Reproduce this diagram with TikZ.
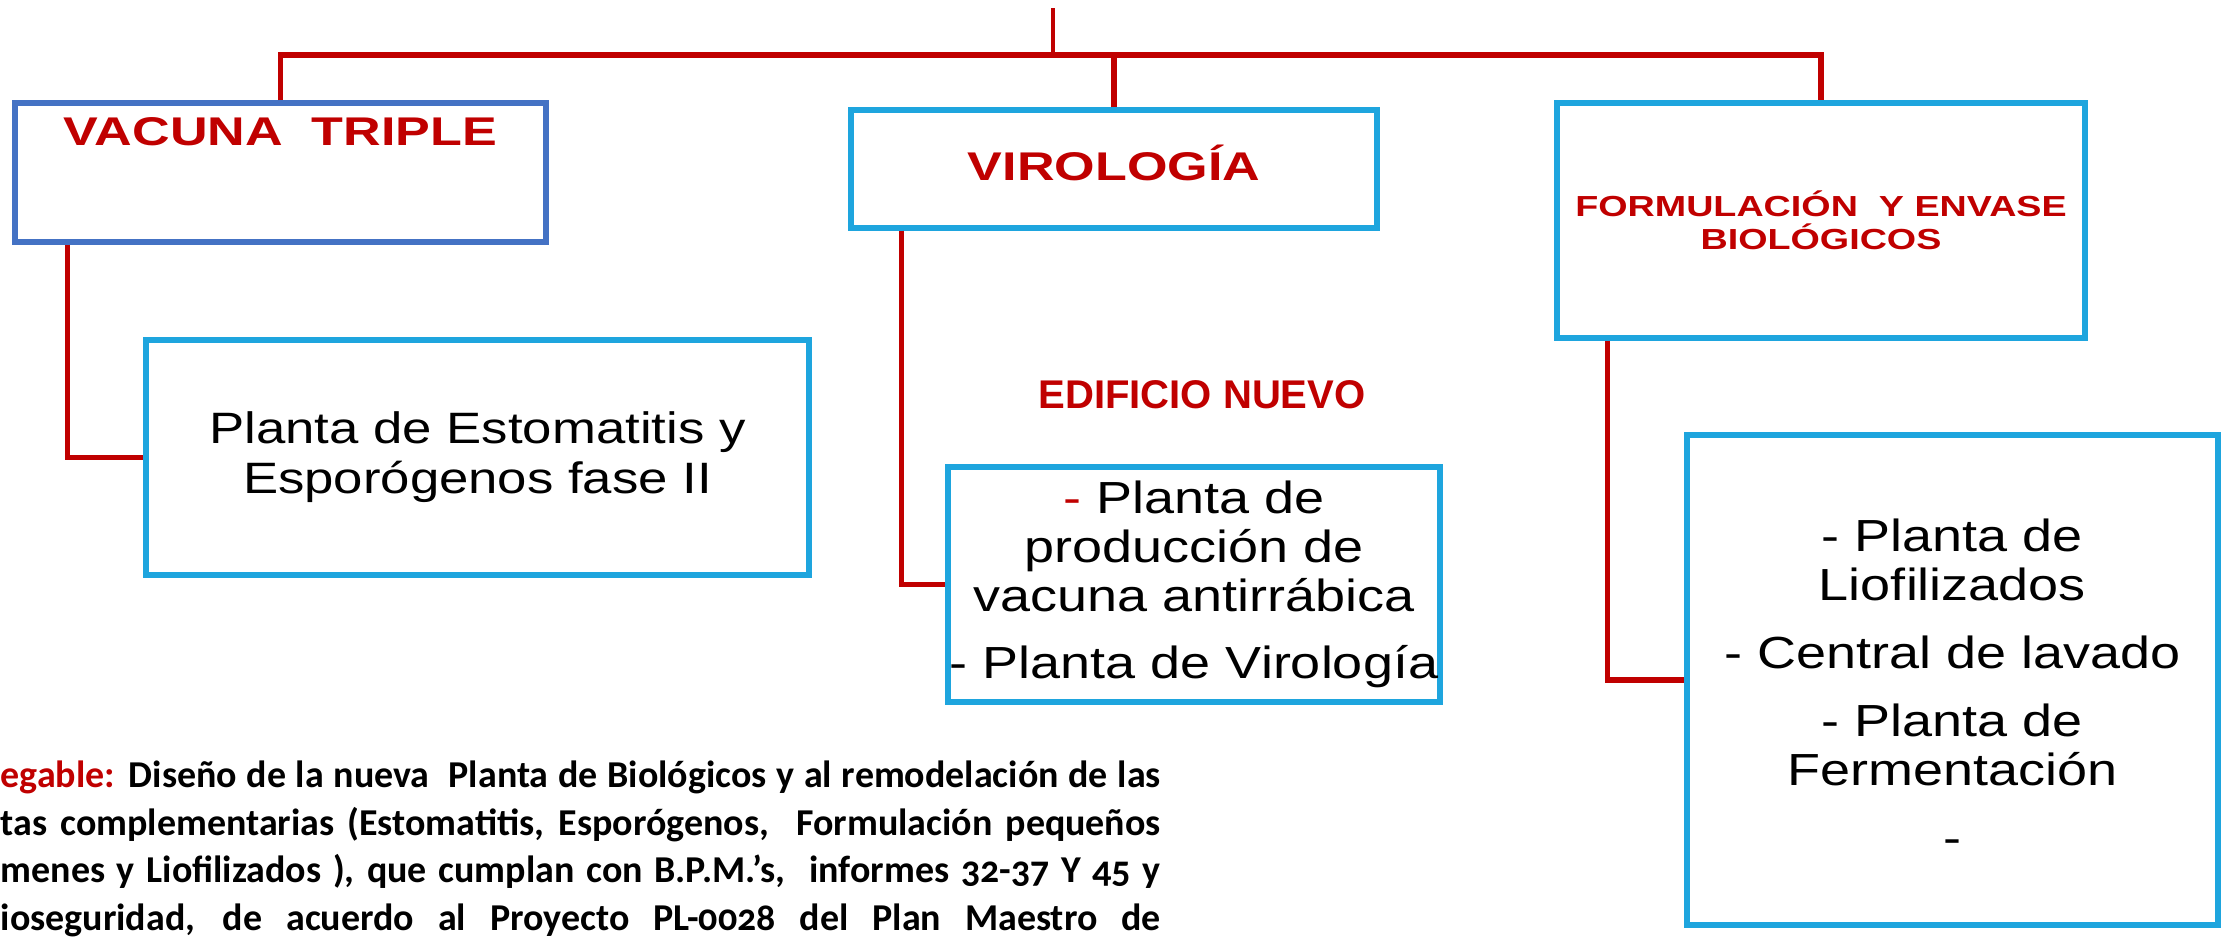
\documentclass[tikz,border=0pt]{standalone}
\usepackage{fontspec}
\setmainfont{Liberation Sans}
\newfontfamily\headfont{Liberation Sans}[FakeStretch=1.3]
\newfontfamily\bodyfont{Liberation Sans}[FakeStretch=1.2]
\newfontfamily\notefont{Carlito}[Numbers=OldStyle]
\usetikzlibrary{positioning}
\definecolor{lineRed}{RGB}{192,0,0}
\definecolor{boxBlue}{RGB}{68,114,196}
\definecolor{boxCyan}{RGB}{30,165,222}
\tikzset{
	link/.style={draw=lineRed,line width=1.45pt},
	box/.style={draw=boxCyan,line width=1.45pt,rectangle,inner sep=0pt,align=center,font=\bodyfont\fontsize{12.8}{13.9}\selectfont},
	headtxt/.style={text=lineRed,inner sep=0pt,font=\headfont\bfseries\fontsize{11.4}{13}\selectfont}
}
\begin{document}
\begin{tikzpicture}[x=0.1mm,y=-0.1mm]
	\useasboundingbox (0,0) rectangle (2229,945);
	\node[box,draw=boxBlue,minimum width=53.1mm,minimum height=13.9mm] (vac) at (280.5,172.5) {};
	\node[box,minimum width=52.6mm,minimum height=11.8mm] (vir) at (1114,169) {};
	\node[box,minimum width=52.8mm,minimum height=23.5mm,text=lineRed,font=\headfont\bfseries\fontsize{8.25}{9.4}\selectfont] (form) at (1821,220.5) {FORMULACIÓN~ Y ENVASE\\BIOLÓGICOS};
	\node[box,minimum width=66.3mm,minimum height=23.5mm,font=\bodyfont\fontsize{12.5}{14.2}\selectfont] (esto) at (477.5,457.5) {Planta de Estomatitis y\\Esporógenos fase II};
	\node[box,minimum width=49.2mm,minimum height=23.5mm] (anti) at (1194,584.5) {{\color{lineRed}-} Planta de\\producción de\\vacuna antirrábica\\[5.4pt]- Planta de Virología};
	\node[box,minimum width=53.1mm,minimum height=49mm] (liof) at (1952.5,680) {\rule{0pt}{4.5mm}- Planta de\\Liofilizados\\[5.4pt]- Central de lavado\\[5.4pt]- Planta de\\Fermentación\\[5.4pt]-};
	
	\node[headtxt,anchor=base] (vaclab) at ([yshift=-4.5mm]vac.north) {VACUNA~ TRIPLE};
	\node[headtxt,anchor=base] (virlab) at ([yshift=-7.3mm]vir.north) {VIROLOGÍA};
	\node[headtxt,font=\bfseries\fontsize{11.4}{13}\selectfont,above=5.5mm of anti.north,xshift=0.8mm] (newlab) {EDIFICIO NUEVO};
	\node[anchor=north west,inner sep=0pt,text width=116mm,align=justify,font=\notefont\bfseries\fontsize{10.8}{13.6}\selectfont] (note) at (0,760) {\parfillskip=0pt {\color{lineRed}egable:} Diseño de la nueva~ Planta de Biológicos y al remodelación de las\linebreak tas complementarias (Estomatitis, Esporógenos,~ Formulación pequeños\linebreak menes y Liofilizados ), que cumplan con B.P.M.’s,~ informes 32-37 Y 45 y\linebreak ioseguridad, de acuerdo al Proyecto PL-0028 del Plan Maestro de\par};
	
	\coordinate (feed) at (1053,8);
	\coordinate (hub) at (1053,55);
	\draw [link,line width=1pt] (feed) -- (hub);
	\draw [link] (vac.north) |- (hub) -| (form.north);
	\draw [link] (vir.north) -- (vir.north |- hub);
	\draw [link] ([xshift=5.5mm]vac.south west) |- (esto.west);
	\draw [link] ([xshift=5.3mm]vir.south west) |- (anti.west);
	\draw [link] ([xshift=5.3mm]form.south west) |- (liof.west);
\end{tikzpicture}
\end{document}
